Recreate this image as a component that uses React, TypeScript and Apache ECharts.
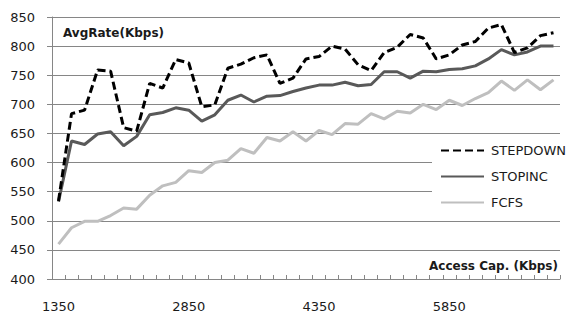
import React, { useEffect, useRef } from "react";
import * as echarts from "echarts";

const categories: string[] = [];
for (let c = 1350; c <= 7050; c += 150) categories.push(String(c));

const stepdown = [534, 684, 690, 759, 757, 660, 654, 736, 728, 777, 771, 696, 699, 762, 769, 780, 785, 736, 745, 778, 782, 800, 795, 768, 758, 789, 798, 820, 814, 778, 785, 802, 808, 831, 837, 789, 797, 818, 823];
const stopinc = [533, 637, 631, 649, 653, 629, 645, 682, 686, 694, 690, 671, 682, 707, 716, 704, 714, 715, 722, 728, 733, 733, 738, 732, 734, 756, 756, 745, 757, 756, 760, 761, 766, 778, 794, 785, 790, 800, 800];
const fcfs = [460, 488, 499, 499, 509, 522, 520, 544, 560, 566, 586, 583, 600, 604, 624, 616, 643, 637, 653, 637, 655, 648, 667, 666, 684, 675, 688, 685, 700, 691, 707, 698, 710, 720, 740, 724, 742, 725, 742];

const yTitle = "AvgRate(Kbps)";
const xTitle = "Access Cap. (Kbps)";

export default function App() {
  const ref = useRef<HTMLDivElement>(null);
  useEffect(() => {
    if (!ref.current) return;
    const chart = echarts.init(ref.current, null, { renderer: "svg" });
    const labelFont = { fontFamily: "DejaVu Sans", fontSize: 13, color: "#1a1a1a" };
    chart.setOption({
      animation: false,
      backgroundColor: "#ffffff",
      grid: { left: 52, right: 6, top: 17, bottom: 35, containLabel: false },
      xAxis: {
        type: "category",
        data: categories,
        boundaryGap: true,
        axisLine: { show: true, lineStyle: { color: "#868686", width: 1 } },
        axisTick: { show: true, inside: true, length: 4, interval: 0, lineStyle: { color: "#868686" } },
        axisLabel: { ...labelFont, interval: 9, margin: 21 },
        splitLine: { show: false },
      },
      yAxis: {
        type: "value",
        min: 400,
        max: 850,
        interval: 50,
        axisLine: { show: true, lineStyle: { color: "#868686", width: 1 } },
        axisTick: { show: true, length: 5, lineStyle: { color: "#868686" } },
        axisLabel: { ...labelFont, margin: 17 },
        splitLine: { show: true, lineStyle: { color: "#868686", width: 1 } },
      },
      legend: {
        orient: "vertical",
        left: 432,
        top: 136,
        padding: [8, 4, 8, 8],
        backgroundColor: "#ffffff",
        itemWidth: 43,
        itemHeight: 14,
        itemGap: 13,
        itemStyle: { opacity: 0 },
        textStyle: { fontFamily: "DejaVu Sans", fontSize: 13, color: "#1a1a1a", padding: [0, 0, 0, 2] },
        data: ["STEPDOWN", "STOPINC", "FCFS"],
      },
      graphic: [
        {
          type: "text",
          left: 63,
          top: 27,
          style: { text: yTitle, font: "bold 12px 'DejaVu Sans'", fill: "#1a1a1a" },
        },
        {
          type: "text",
          right: 8,
          top: 260,
          style: { text: xTitle, font: "bold 12px 'DejaVu Sans'", fill: "#1a1a1a" },
        },
      ],
      series: [
        {
          name: "STEPDOWN",
          type: "line",
          data: stepdown,
          symbol: "none",
          lineStyle: { color: "#000000", width: 3, type: [8, 4] },
          itemStyle: { color: "#000000" },
          z: 3,
        },
        {
          name: "STOPINC",
          type: "line",
          data: stopinc,
          symbol: "none",
          lineStyle: { color: "#595959", width: 3 },
          itemStyle: { color: "#595959" },
          z: 2,
        },
        {
          name: "FCFS",
          type: "line",
          data: fcfs,
          symbol: "none",
          lineStyle: { color: "#bfbfbf", width: 3 },
          itemStyle: { color: "#bfbfbf" },
          z: 1,
        },
      ],
    });
    return () => chart.dispose();
  }, []);
  return (
    <div
      ref={ref}
      style={{ position: "fixed", left: 0, top: 0, width: 566, height: 314 }}
    />
  );
}
